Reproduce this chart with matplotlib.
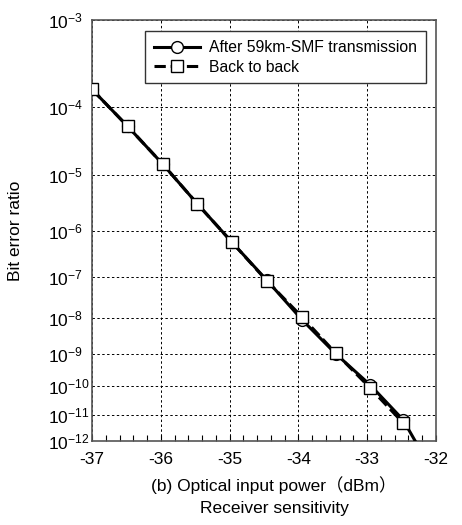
import numpy as np
import matplotlib
matplotlib.use('Agg')
import matplotlib.pyplot as plt
from matplotlib.ticker import FixedLocator, MultipleLocator, NullFormatter

plt.rcParams['font.family'] = ['Liberation Sans', 'Noto Sans CJK JP', 'DejaVu Sans']
plt.rcParams['mathtext.fontset'] = 'custom'
plt.rcParams['mathtext.rm'] = 'Liberation Sans'
plt.rcParams['mathtext.it'] = 'Liberation Sans'

# data
power_b2b = [-37.0, -36.48, -35.97, -35.47, -34.97, -34.46, -33.95, -33.46, -32.96, -32.48]
ber_b2b = [1.7e-4, 5.5e-5, 1.5e-5, 3.2e-6, 5.9e-7, 8.3e-8, 1.07e-8, 1.05e-9, 8.5e-11, 5.0e-12]

power_smf = [-37.0, -36.48, -35.97, -35.47, -34.97, -34.46, -33.95, -33.46, -32.96, -32.48, -32.0]
ber_smf = [1.7e-4, 5.5e-5, 1.5e-5, 3.2e-6, 5.9e-7, 8.6e-8, 9.0e-9, 1.0e-9, 1.07e-10, 6.5e-12, 3e-14]

x_ticks = [-37, -36, -35, -34, -33, -32]
y_exps = [-3, -4, -5, -6, -7, -8, -9, -10, -11, -12]


def fwd(y):
    y = np.asarray(y, dtype=float)
    with np.errstate(all='ignore'):
        return -np.log10(-np.log10(np.clip(y, 1e-300, 0.999999)))


def inv(t):
    t = np.asarray(t, dtype=float)
    with np.errstate(all='ignore'):
        return 10.0 ** (-(10.0 ** (-t)))


fs = 12.5
fig = plt.figure(figsize=(4.62, 5.25), dpi=100)
ax = fig.add_axes([92 / 462, 1 - 441 / 525, 344 / 462, 421 / 525])

ax.set_yscale('function', functions=(fwd, inv))

ax.plot(power_smf, ber_smf, '-', color='black', lw=2.2, marker='o', ms=8.5,
        mfc='white', mec='black', mew=1.0, label='After 59km-SMF transmission', zorder=3)
ax.plot(power_b2b, ber_b2b, '--', color='black', lw=2.2, marker='s', ms=8.5,
        mfc='white', mec='black', mew=1.0, label='Back to back', zorder=4)

ax.set_xlim(-37, -32)
ax.set_ylim(1e-12, 1e-3)

yvals = [10.0 ** e for e in y_exps]
ax.yaxis.set_major_locator(FixedLocator(yvals))
ax.yaxis.set_minor_locator(FixedLocator([]))
ax.set_yticklabels(['$10^{%d}$' % e for e in y_exps])
ax.set_xticks(x_ticks)
ax.set_xticklabels([str(v) for v in x_ticks])
ax.xaxis.set_minor_locator(MultipleLocator(0.2))
ax.xaxis.set_minor_formatter(NullFormatter())

ax.tick_params(axis='x', which='both', direction='in', length=4, width=0.8,
               labelsize=fs, pad=8, top=False)
# y labels are left-aligned in the original
ax.tick_params(axis='y', which='both', length=0, labelsize=fs, pad=31.5)
for lab in ax.get_yticklabels():
    lab.set_horizontalalignment('left')

ax.grid(True, which='major', linestyle=(0, (2.5, 2.5)), color='black', lw=0.7)

for s in ax.spines.values():
    s.set_color('#555555')
    s.set_linewidth(1.2)

ax.set_ylabel('Bit error ratio', fontsize=fs, labelpad=18)

fig.text(274 / 462, 1 - 485 / 525, '(b) Optical input power（dBm）',
         ha='center', va='center', fontsize=fs)
fig.text(274 / 462, 1 - 508 / 525, 'Receiver sensitivity',
         ha='center', va='center', fontsize=fs)

leg = ax.legend(loc='upper right', bbox_to_anchor=(0.97, 0.973), fontsize=11.3,
                handlelength=2.9, frameon=True, fancybox=False, borderpad=0.55,
                labelspacing=0.3, handletextpad=0.6, borderaxespad=0)
leg.get_frame().set_edgecolor('#333333')
leg.get_frame().set_linewidth(1.0)
leg.get_frame().set_alpha(1.0)

fig.savefig('out.png', dpi=100)
